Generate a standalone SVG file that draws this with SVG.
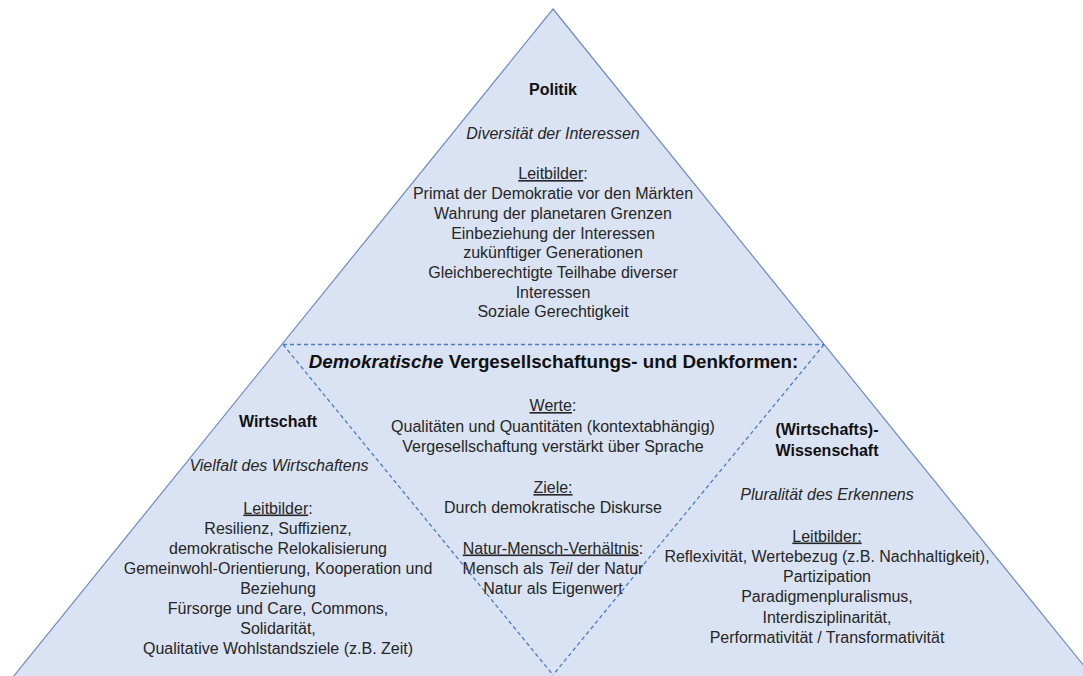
<svg xmlns="http://www.w3.org/2000/svg" width="1083" height="676" viewBox="0 0 1083 676">
<style>
  .t { font-family: "Liberation Sans", Arial, sans-serif; font-size: 16px; fill: #262626; text-anchor: middle; }
  .b { font-weight: bold; fill: #111; }
  .i { font-style: italic; }
  .u { text-decoration: underline; }
  .h { font-size: 18.8px; font-weight: bold; fill: #111; }
  .div { fill: none; stroke: #4A7BC8; stroke-width: 1.3; stroke-dasharray: 4 3; }
</style>
<rect width="1083" height="676" fill="#ffffff"/>
<g id="pyramid">
  <polygon points="553,9 1093,677 13,677" fill="#DAE3F3" stroke="#6D8BC2" stroke-width="1.2"/>
</g>
<g id="connectors">
  <line class="div" x1="283" y1="344.5" x2="824" y2="344.5"/>
  <line class="div" x1="283" y1="344.5" x2="553" y2="675"/>
  <line class="div" x1="824" y1="344.5" x2="553" y2="675"/>
</g>
<g id="politik">
  <text class="t b" x="553" y="95">Politik</text>
  <text class="t i" x="553" y="139">Diversität der Interessen</text>
  <text class="t" x="553" y="179"><tspan class="u">Leitbilder</tspan>:</text>
  <text class="t" x="553" y="199">Primat der Demokratie vor den Märkten</text>
  <text class="t" x="553" y="219">Wahrung der planetaren Grenzen</text>
  <text class="t" x="553" y="238.5">Einbeziehung der Interessen</text>
  <text class="t" x="553" y="258">zukünftiger Generationen</text>
  <text class="t" x="553" y="278">Gleichberechtigte Teilhabe diverser</text>
  <text class="t" x="553" y="297.5">Interessen</text>
  <text class="t" x="553" y="317">Soziale Gerechtigkeit</text>
</g>
<g id="demokratisch">
  <text class="t h" x="553.5" y="367.5"><tspan class="i">Demokratische</tspan> Vergesellschaftungs- und Denkformen:</text>
  <text class="t" x="553" y="411"><tspan class="u">Werte</tspan>:</text>
  <text class="t" x="553" y="431.5">Qualitäten und Quantitäten (kontextabhängig)</text>
  <text class="t" x="553" y="451.5">Vergesellschaftung verstärkt über Sprache</text>
  <text class="t u" x="553" y="493">Ziele:</text>
  <text class="t" x="553" y="512.5">Durch demokratische Diskurse</text>
  <text class="t" x="553" y="553.5"><tspan class="u">Natur-Mensch-Verhältnis</tspan>:</text>
  <text class="t" x="553" y="574">Mensch als <tspan class="i">Teil</tspan> der Natur</text>
  <text class="t" x="553" y="594">Natur als Eigenwert</text>
</g>
<g id="wirtschaft">
  <text class="t b" x="278" y="427">Wirtschaft</text>
  <text class="t i" x="279" y="471">Vielfalt des Wirtschaftens</text>
  <text class="t" x="278" y="513.5"><tspan class="u">Leitbilder</tspan>:</text>
  <text class="t" x="278" y="533.5">Resilienz, Suffizienz,</text>
  <text class="t" x="278" y="553.5">demokratische Relokalisierung</text>
  <text class="t" x="278" y="573.5">Gemeinwohl-Orientierung, Kooperation und</text>
  <text class="t" x="278" y="593.5">Beziehung</text>
  <text class="t" x="278" y="613.5">Fürsorge und Care, Commons,</text>
  <text class="t" x="278" y="633.5">Solidarität,</text>
  <text class="t" x="278" y="654">Qualitative Wohlstandsziele (z.B. Zeit)</text>
</g>
<g id="wissenschaft">
  <text class="t b" x="827" y="435">(Wirtschafts)-</text>
  <text class="t b" x="827" y="456">Wissenschaft</text>
  <text class="t i" x="827" y="499.5">Pluralität des Erkennens</text>
  <text class="t u" x="827" y="541.5">Leitbilder:</text>
  <text class="t" x="827" y="561.5">Reflexivität, Wertebezug (z.B. Nachhaltigkeit),</text>
  <text class="t" x="827" y="582">Partizipation</text>
  <text class="t" x="827" y="602">Paradigmenpluralismus,</text>
  <text class="t" x="827" y="622.5">Interdisziplinarität,</text>
  <text class="t" x="827" y="643">Performativität / Transformativität</text>
</g>
</svg>
